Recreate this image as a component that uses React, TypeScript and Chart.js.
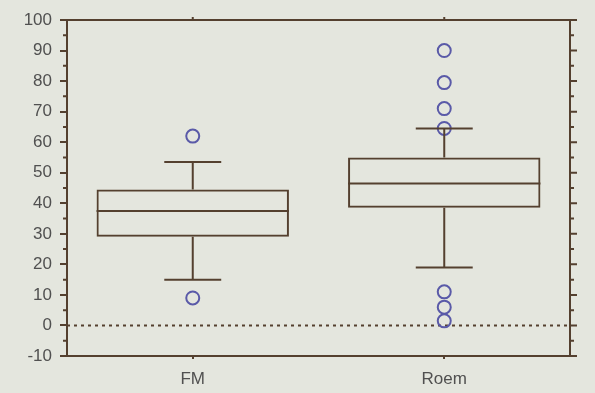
import React, { useEffect, useRef } from "react";
import { Chart, registerables } from "chart.js";

Chart.register(...registerables);

const categories = ["FM", "Roem"];
const q1 = [29, 38.5];
const medians = [37.5, 46.5];
const q3 = [44.5, 55];
const whiskerLow = [15, 19];
const whiskerHigh = [53.5, 64.5];
const outliersFM = [62, 9];
const outliersRoem = [90, 79.5, 71, 64.5, 11, 6, 1.5];
const yMin = -10;
const yMax = 100;
const yStep = 10;

const LINE = "#54402f";
const TEXT = "#505050";
const POINT = "#5a5aa8";
const BG = "#e4e6de";
const LW = 2;

const boxPlugin = {
  id: "boxExtras",
  beforeDatasetsDraw(chart: any) {
    const { ctx, chartArea, scales } = chart;
    const y = scales.y;
    const y0 = y.getPixelForValue(0);
    ctx.save();
    ctx.strokeStyle = LINE;
    ctx.lineWidth = 2;
    ctx.setLineDash([3, 4]);
    ctx.beginPath();
    ctx.moveTo(chartArea.left, y0);
    ctx.lineTo(chartArea.right, y0);
    ctx.stroke();
    ctx.restore();
  },
  afterDatasetsDraw(chart: any) {
    const { ctx, scales } = chart;
    const x = scales.x;
    const y = scales.y;
    const meta = chart.getDatasetMeta(0);
    ctx.save();
    ctx.strokeStyle = LINE;
    ctx.lineWidth = LW;
    ctx.setLineDash([]);
    categories.forEach((_, i) => {
      const cx = x.getPixelForValue(i);
      const bw = meta.data[i].width;
      const capHalf = bw * 0.148;
      const ym = y.getPixelForValue(medians[i]);
      ctx.beginPath();
      ctx.moveTo(cx - bw / 2, ym);
      ctx.lineTo(cx + bw / 2, ym);
      ctx.moveTo(cx, y.getPixelForValue(q3[i]));
      ctx.lineTo(cx, y.getPixelForValue(whiskerHigh[i]));
      ctx.moveTo(cx - capHalf, y.getPixelForValue(whiskerHigh[i]));
      ctx.lineTo(cx + capHalf, y.getPixelForValue(whiskerHigh[i]));
      ctx.moveTo(cx, y.getPixelForValue(q1[i]));
      ctx.lineTo(cx, y.getPixelForValue(whiskerLow[i]));
      ctx.moveTo(cx - capHalf, y.getPixelForValue(whiskerLow[i]));
      ctx.lineTo(cx + capHalf, y.getPixelForValue(whiskerLow[i]));
      ctx.stroke();
    });
    ctx.restore();
  },
  afterDraw(chart: any) {
    const { ctx, chartArea, scales } = chart;
    const x = scales.x;
    const y = scales.y;
    ctx.save();
    ctx.strokeStyle = LINE;
    ctx.lineWidth = LW;
    ctx.setLineDash([]);
    ctx.beginPath();
    ctx.rect(chartArea.left, chartArea.top, chartArea.right - chartArea.left, chartArea.bottom - chartArea.top);
    ctx.stroke();
    ctx.beginPath();
    for (let v = yMin; v <= yMax; v += yStep / 2) {
      const py = y.getPixelForValue(v);
      const major = Math.abs(v % yStep) < 1e-9;
      if (!major) {
        ctx.moveTo(chartArea.left - 4, py);
        ctx.lineTo(chartArea.left, py);
      }
      ctx.moveTo(chartArea.right, py);
      ctx.lineTo(chartArea.right + (major ? 7 : 4), py);
    }
    categories.forEach((_, i) => {
      const cx = x.getPixelForValue(i);
      ctx.moveTo(cx, chartArea.top);
      ctx.lineTo(cx, chartArea.top - 3);
    });
    ctx.stroke();
    ctx.restore();
  },
};

export default function App() {
  const ref = useRef<HTMLCanvasElement>(null);
  useEffect(() => {
    if (!ref.current) return;
    const chart = new Chart(ref.current, {
      type: "bar",
      data: {
        labels: categories,
        datasets: [
          {
            type: "bar",
            data: categories.map((_, i) => [q1[i], q3[i]]) as any,
            backgroundColor: "rgba(0,0,0,0)",
            borderColor: LINE,
            borderWidth: LW,
            borderSkipped: false,
            categoryPercentage: 1,
            barPercentage: 0.765,
          } as any,
          {
            type: "line",
            data: outliersFM.map((v) => ({ x: "FM", y: v })) as any,
            showLine: false,
            pointRadius: 6.5,
            pointStyle: "circle",
            borderColor: POINT,
            backgroundColor: "rgba(0,0,0,0)",
            pointBorderWidth: 2,
          } as any,
          {
            type: "line",
            data: outliersRoem.map((v) => ({ x: "Roem", y: v })) as any,
            showLine: false,
            pointRadius: 6.5,
            pointStyle: "circle",
            borderColor: POINT,
            backgroundColor: "rgba(0,0,0,0)",
            pointBorderWidth: 2,
          } as any,
        ],
      },
      options: {
        responsive: false,
        animation: false,
        devicePixelRatio: 1,
        layout: { padding: { top: 20, left: 0, right: 25, bottom: 0 } },
        plugins: { legend: { display: false }, tooltip: { enabled: false } },
        scales: {
          x: {
            type: "category",
            offset: true,
            grid: {
              offset: false,
              drawOnChartArea: false,
              drawTicks: true,
              tickLength: 3,
              color: LINE,
              lineWidth: LW,
            },
            border: { display: true, color: LINE, width: LW },
            ticks: {
              color: TEXT,
              font: { family: "'Liberation Sans', Arial, sans-serif", size: 17 },
              padding: 10,
            },
            afterFit: (s: any) => {
              s.height = 37;
            },
          },
          y: {
            min: yMin,
            max: yMax,
            grid: {
              drawOnChartArea: false,
              drawTicks: true,
              tickLength: 7,
              color: LINE,
              lineWidth: LW,
            },
            border: { display: true, color: LINE, width: LW },
            ticks: {
              stepSize: yStep,
              color: TEXT,
              font: { family: "'Liberation Sans', Arial, sans-serif", size: 17 },
              padding: 8,
            },
            afterFit: (s: any) => {
              s.width = 67;
            },
          },
        },
      } as any,
      plugins: [boxPlugin],
    });
    return () => chart.destroy();
  }, []);
  return (
    <div style={{ position: "fixed", left: 0, top: 0, width: 595, height: 393, background: BG }}>
      <canvas ref={ref} width={595} height={393} />
    </div>
  );
}
